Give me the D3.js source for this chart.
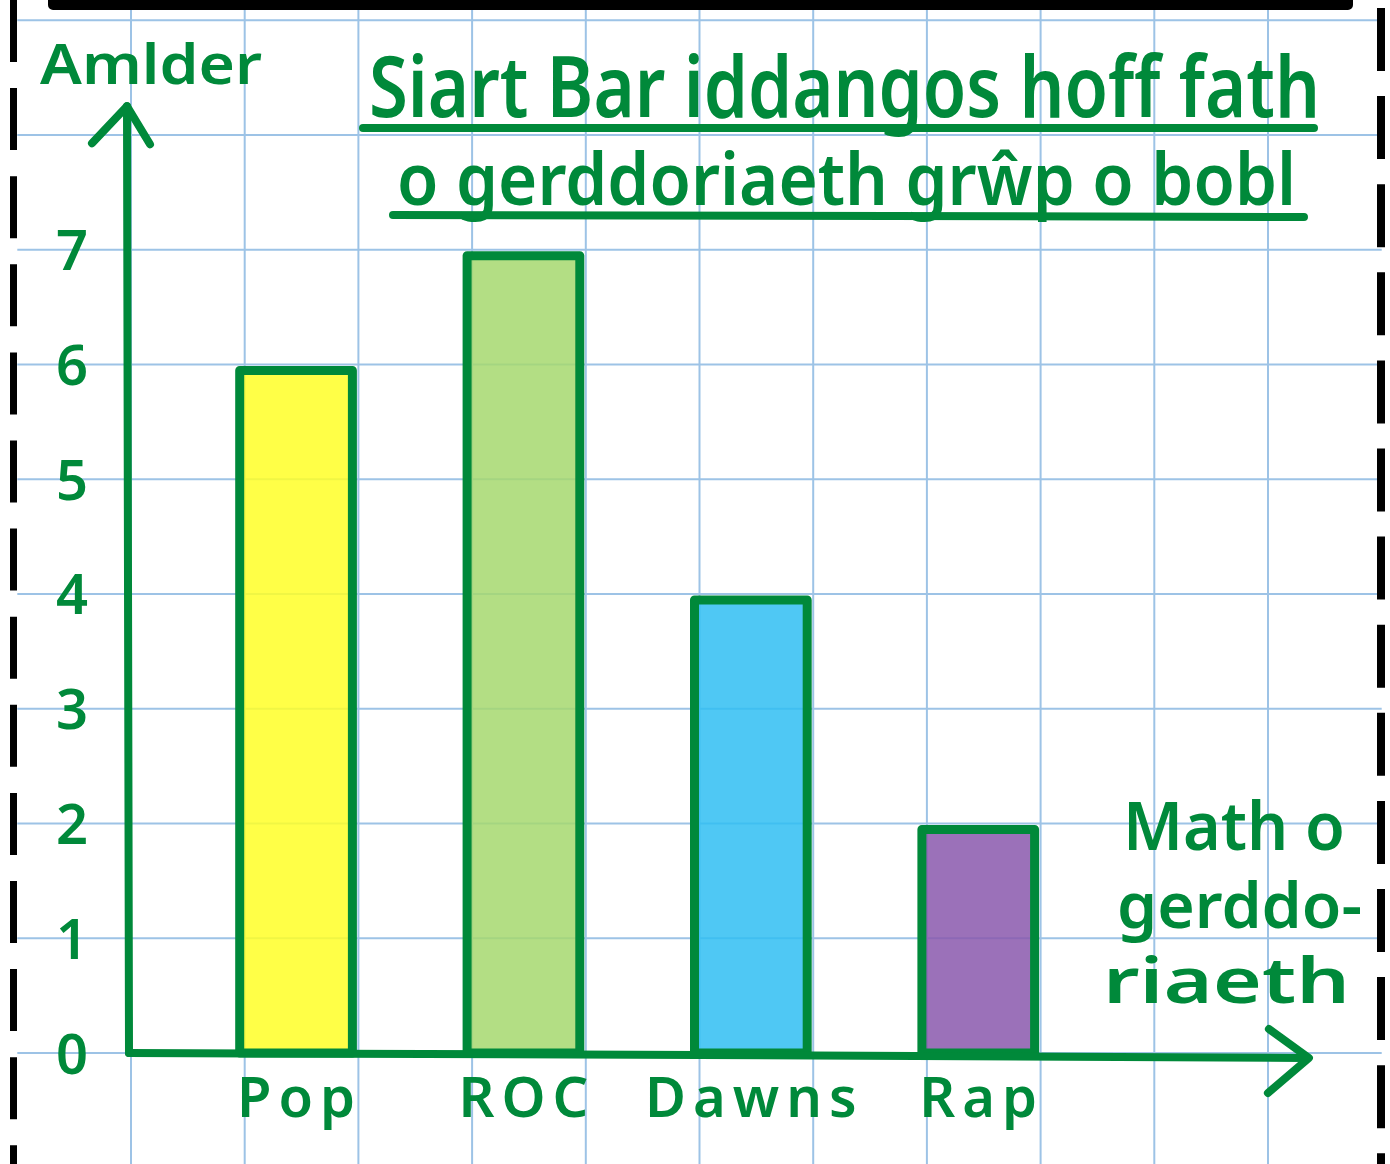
<!DOCTYPE html>
<html>
<head>
<meta charset="utf-8">
<script src="https://cdn.jsdelivr.net/npm/d3@7"></script>
<style>
  html, body { margin: 0; padding: 0; background: #fff; }
  svg { display: block; }
</style>
</head>
<body>
<div id="root"></div>
<script>
// data
const categories = ["Pop", "ROC", "Dawns", "Rap"]
const counts = [6, 7, 4, 2]
const yTicks = [0, 1, 2, 3, 4, 5, 6, 7]
const titleLines = ["Siart Bar iddangos hoff fath", "o gerddoriaeth grŵp o bobl"]
const yLabel = "Amlder"
const xLabelLines = ["Math o", "gerddo-", "riaeth"]

// fill colours per bar (style, not data)
const barFills = ["#ffff27", "#a6d86e", "#30bef2", "#8a58ad"]

const W = 1390, H = 1164
const GREEN = "#00893a"
const GRID = "#9dc3e6"
const FONT = "'Noto Sans', 'DejaVu Sans', sans-serif"

const root = d3.select("#root")
root.selectAll("*").remove()

const svg = root.append("svg")
  .attr("width", W)
  .attr("height", H)
  .attr("viewBox", `0 0 ${W} ${H}`)

// 1. scales: the squared paper is 12 columns wide, one row per unit
const gridX = d3.scaleLinear().domain([0, 12]).range([17.3, 1381.7])
const y = d3.scaleLinear().domain([0, 7]).range([1053, 249.7])
const x = d3.scaleBand()
  .domain(categories)
  .range([gridX(2), gridX(9)])
  .paddingInner(0.5)
  .paddingOuter(0)

// 2. squared paper
const grid = svg.append("g")
  .attr("stroke", GRID)
  .attr("stroke-width", 2)
grid.selectAll("line.v")
  .data(d3.range(1, 12))
  .join("line")
  .attr("class", "v")
  .attr("x1", d => gridX(d)).attr("x2", d => gridX(d))
  .attr("y1", 0).attr("y2", H)
grid.selectAll("line.h")
  .data(d3.range(0, 10))
  .join("line")
  .attr("class", "h")
  .attr("x1", gridX(0)).attr("x2", gridX(12))
  .attr("y1", d => y(d)).attr("y2", d => y(d))

// 3. bars
const data = categories.map((c, i) => ({ cat: c, value: counts[i], fill: barFills[i] }))
const bars = svg.append("g")
bars.selectAll("rect.fill")
  .data(data)
  .join("rect")
  .attr("class", "fill")
  .attr("x", d => x(d.cat) - 5)
  .attr("y", d => y(d.value) + 6)
  .attr("width", x.bandwidth() - 1)
  .attr("height", d => y(0) - y(d.value) - 6)
  .attr("fill", d => d.fill)
  .attr("fill-opacity", 0.85)
bars.selectAll("rect.edge")
  .data(data)
  .join("rect")
  .attr("class", "edge")
  .attr("x", d => x(d.cat) - 5)
  .attr("y", d => y(d.value) + 6)
  .attr("width", x.bandwidth() - 1)
  .attr("height", d => y(0) - y(d.value) - 6)
  .attr("fill", "none")
  .attr("stroke", GREEN)
  .attr("stroke-width", 9)
  .attr("stroke-linejoin", "round")

// 4. hand drawn axes with arrow heads
const line = d3.line()
const axes = svg.append("g")
  .attr("fill", "none")
  .attr("stroke", GREEN)
  .attr("stroke-width", 8)
  .attr("stroke-linecap", "round")
  .attr("stroke-linejoin", "round")

const yTip = [gridX(1) - 4, y(8.25)]
axes.append("path").attr("d", line([[gridX(1) - 2, y(0)], yTip]))
axes.append("path").attr("d", line([[yTip[0] - 35, yTip[1] + 37], yTip, [yTip[0] + 23, yTip[1] + 38]]))

const xTip = [gridX(11.36), y(0) + 5]
axes.append("path").attr("d", line([[gridX(1) - 2, y(0)], [gridX(6), y(0) + 2], [xTip[0] - 4, xTip[1]]]))
axes.append("path").attr("d", line([[xTip[0] - 40, xTip[1] - 29], xTip, [xTip[0] - 41, xTip[1] + 35]]))

// 5. tick labels through d3 axes
const yAxis = svg.append("g")
  .call(d3.axisLeft(y).tickValues(yTicks).tickSize(0).tickFormat(d3.format("d")))
yAxis.select(".domain").remove()
yAxis.selectAll("text")
  .attr("x", 72)
  .attr("y", 20)
  .attr("dy", null)
  .attr("text-anchor", "middle")
  .attr("fill", GREEN)
  .style("font", `600 56px ${FONT}`)

const xAxis = svg.append("g")
  .attr("transform", `translate(0, ${y(0)})`)
  .call(d3.axisBottom(x).tickSize(0))
xAxis.select(".domain").remove()
xAxis.selectAll("text")
  .attr("x", -2)
  .attr("y", 64)
  .attr("dy", null)
  .attr("text-anchor", "middle")
  .attr("fill", GREEN)
  .style("letter-spacing", "7px")
  .style("font", `600 56px ${FONT}`)

// 6. titles and axis names, stretched to the hand written extents
const labels = svg.append("g")
  .attr("fill", GREEN)
  .style("font-family", FONT)
  .style("font-weight", 600)

function handText(str, x1, x2, baseline, size) {
  return labels.append("text")
    .attr("x", x1)
    .attr("y", baseline)
    .attr("textLength", x2 - x1)
    .attr("lengthAdjust", "spacingAndGlyphs")
    .attr("font-size", size)
    .text(str)
}

handText(titleLines[0], 369, 1320, 117, 84)
handText(titleLines[1], 397, 1296, 205, 72)
handText(yLabel, 40, 262, 84, 56)
handText(xLabelLines[0], 1123, 1345, 850, 66)
handText(xLabelLines[1], 1117, 1362, 928, 64)
handText(xLabelLines[2], 1103, 1350, 1003, 64)

const underline = svg.append("g")
  .attr("stroke", GREEN)
  .attr("stroke-width", 8)
  .attr("stroke-linecap", "round")
underline.append("line").attr("x1", 363).attr("x2", 1314).attr("y1", 128).attr("y2", 128)
underline.append("line").attr("x1", 393).attr("x2", 1304).attr("y1", 215).attr("y2", 217)

// 7. page border: frame edge at top, dashed cut lines at the sides
svg.append("path")
  .attr("d", "M53,-20 L53,5 L1348,5 L1348,-20")
  .attr("fill", "none")
  .attr("stroke", "#000")
  .attr("stroke-width", 10)
  .attr("stroke-linejoin", "round")

svg.append("line")
  .attr("x1", 13.5).attr("x2", 13.5)
  .attr("y1", 0).attr("y2", H)
  .attr("stroke", "#000")
  .attr("stroke-width", 7)
  .attr("stroke-dasharray", "62 26.1")

svg.append("line")
  .attr("x1", 1381).attr("x2", 1381)
  .attr("y1", 8).attr("y2", H)
  .attr("stroke", "#000")
  .attr("stroke-width", 8)
  .attr("stroke-dasharray", "63 25.1")
</script>
</body>
</html>
